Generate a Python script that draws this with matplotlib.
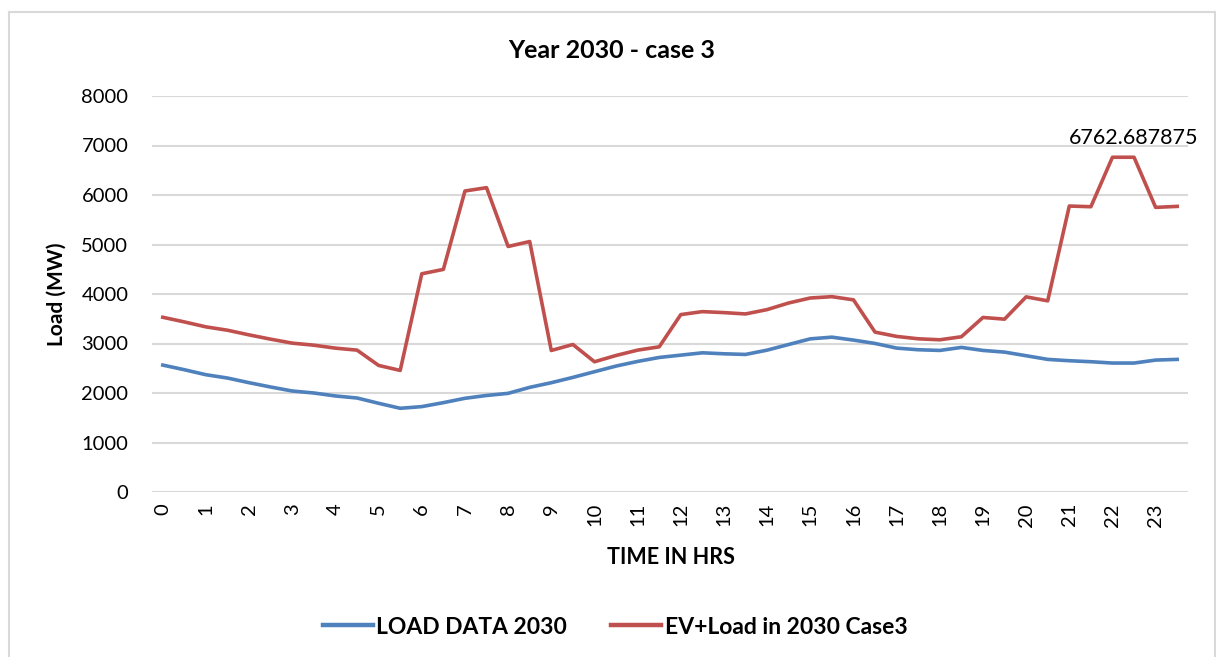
import matplotlib
matplotlib.use("Agg")
import matplotlib.pyplot as plt
from matplotlib.lines import Line2D

plt.rcParams['font.family'] = ['Lato', 'DejaVu Sans']

hours = list(range(24))
load_2030 = [2564, 2470, 2369, 2302, 2208, 2121, 2040, 2000, 1940, 1899, 1792, 1691,
             1725, 1805, 1893, 1950, 1993, 2114, 2208, 2315, 2430, 2544, 2638, 2718,
             2765, 2812, 2792, 2779, 2866, 2980, 3094, 3128, 3069, 3001, 2907, 2874,
             2860, 2921, 2860, 2826, 2753, 2679, 2652, 2632, 2605, 2605, 2665, 2679]
ev_load_2030 = [3530, 3436, 3336, 3268, 3174, 3087, 3007, 2966, 2906, 2866, 2557, 2456,
                4409, 4497, 6081, 6148, 4960, 5060, 2859, 2980, 2631, 2758, 2866, 2933,
                3584, 3644, 3624, 3597, 3685, 3819, 3919, 3946, 3882, 3230, 3143, 3095,
                3075, 3136, 3526, 3492, 3942, 3862, 5777, 5763, 6762.687875, 6762.687875,
                5750, 5770]
label_idx = 45
y_ticks = [0, 1000, 2000, 3000, 4000, 5000, 6000, 7000, 8000]

W, H = 1216, 657
fig = plt.figure(figsize=(W / 100, H / 100), dpi=100)
fig.patch.set_facecolor('white')

# outer chart border
border = '#D9D9D9'
for (x0, y0, x1, y1) in [(8.5, 12, 8.5, H), (8.5, 12, 1215, 12), (1215, 12, 1215, H)]:
    fig.add_artist(Line2D([x0 / W, x1 / W], [1 - y0 / H, 1 - y1 / H],
                          transform=fig.transFigure, color=border, lw=1.5))

left, right, top, bottom = 152, 1188, 96, 492
ax = fig.add_axes([left / W, 1 - bottom / H, (right - left) / W, (bottom - top) / H])

x = list(range(len(load_2030)))
blue = '#4F81BD'
red = '#C0504D'
ax.plot(x, load_2030, color=blue, lw=2.6, solid_joinstyle='round', zorder=3)
ax.plot(x, ev_load_2030, color=red, lw=2.6, solid_joinstyle='round', zorder=3)

ax.set_xlim(-0.5, len(x) - 0.5)
ax.set_ylim(0, 8000)
ax.set_yticks(y_ticks)
ax.set_yticklabels([str(v) for v in y_ticks], fontsize=14.5)
ax.set_xticks(list(range(0, len(x), 2)))
ax.set_xticklabels([str(h) for h in hours], rotation=90, fontsize=14.5)
ax.tick_params(axis='both', length=0, colors='black')
ax.tick_params(axis='y', pad=17)
ax.tick_params(axis='x', pad=8)
for s in ax.spines.values():
    s.set_visible(False)
ax.grid(axis='y', color='#D9D9D9', lw=1.5)
ax.set_axisbelow(True)

ax.annotate("6762.687875",
            xy=(label_idx, ev_load_2030[label_idx]), xytext=(0, 7),
            textcoords='offset points', ha='center', va='bottom', fontsize=15.5)

fig.text(612 / W, 1 - 50 / H, 'Year 2030 - case 3', ha='center', va='center',
         fontsize=18, fontweight='bold')
fig.text(57 / W, 1 - 294 / H, 'Load (MW)', ha='center', va='center', rotation=90,
         fontsize=15, fontweight='bold')
fig.text(671 / W, 1 - 558 / H, 'TIME IN HRS', ha='center', va='center',
         fontsize=15.5, fontweight='bold')

handles = [Line2D([], [], color=blue, lw=3.2), Line2D([], [], color=red, lw=3.2)]
fig.legend(handles, ['LOAD DATA 2030', 'EV+Load in 2030 Case3'],
           loc='center', bbox_to_anchor=(615 / W, 1 - 627 / H), ncol=2, frameon=False,
           prop={'size': 16.5, 'weight': 'bold'}, handlelength=2.2, handletextpad=0.15,
           columnspacing=1.9, borderpad=0.2)

fig.savefig('out.png', dpi=100, facecolor='white')
